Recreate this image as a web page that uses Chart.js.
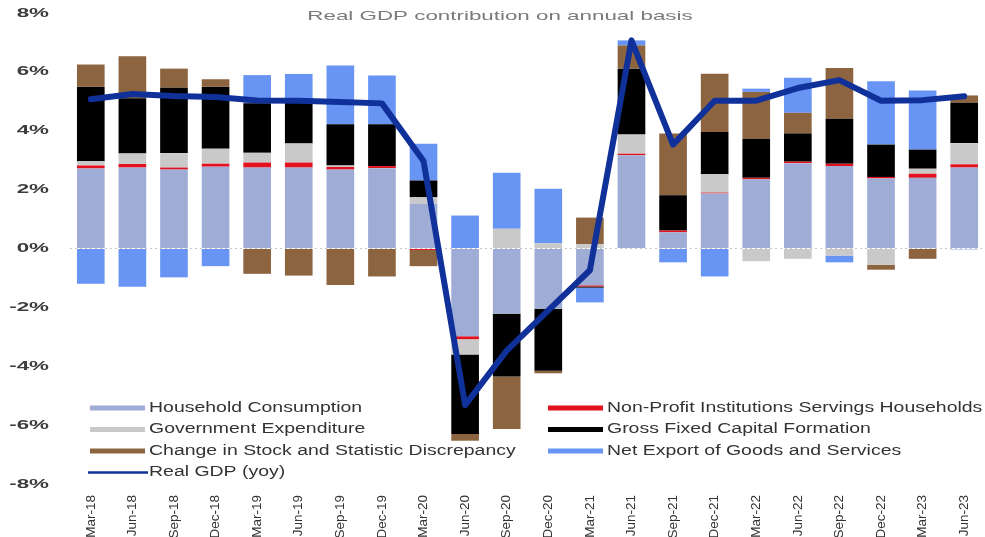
<!DOCTYPE html>
<html>
<head>
<meta charset="utf-8">
<title>Real GDP contribution on annual basis</title>
<script src="https://cdn.jsdelivr.net/npm/chart.js@4.4.1/dist/chart.umd.min.js"></script>
<style>
  html, body { margin: 0; padding: 0; background: #ffffff; }
  #wrap { position: relative; width: 985px; height: 537px; }
</style>
</head>
<body>
<div id="wrap"><canvas id="gdp"></canvas></div>
<script>
// Quarterly contributions to real GDP growth, percentage points (yoy)
const categories = ['Mar-18','Jun-18','Sep-18','Dec-18','Mar-19','Jun-19','Sep-19','Dec-19',
  'Mar-20','Jun-20','Sep-20','Dec-20','Mar-21','Jun-21','Sep-21','Dec-21',
  'Mar-22','Jun-22','Sep-22','Dec-22','Mar-23','Jun-23'];

const household   = [2.72, 2.75, 2.68, 2.78, 2.75, 2.75, 2.68, 2.73, 1.52, -2.98, -2.22, -2.05, -1.25, 3.17, 0.55, 1.87, 2.35, 2.90, 2.80, 2.38, 2.40, 2.75];
const nonProfit   = [0.10, 0.12, 0.07, 0.10, 0.17, 0.17, 0.09, 0.07, -0.05, -0.10, 0.00, 0.00, -0.04, 0.05, 0.06, 0.03, 0.05, 0.05, 0.08, 0.05, 0.14, 0.11];
const government  = [0.14, 0.36, 0.49, 0.51, 0.33, 0.65, 0.05, 0.00, 0.22, -0.52, 0.67, 0.18, 0.15, 0.65, 0.00, 0.62, -0.43, -0.35, -0.24, -0.55, 0.17, 0.72];
const fixedCapital= [2.53, 1.87, 2.22, 2.10, 1.68, 1.45, 1.40, 1.42, 0.57, -2.70, -2.13, -2.10, -0.04, 2.24, 1.20, 1.44, 1.33, 0.96, 1.53, 1.10, 0.65, 1.37];
const stockChange = [0.76, 1.43, 0.65, 0.26, -0.86, -0.92, -1.24, -0.95, -0.55, -0.23, -1.78, -0.09, 0.90, 0.79, 2.10, 1.98, 1.59, 0.70, 1.72, -0.17, -0.35, 0.25];
const netExport   = [-1.20, -1.30, -0.98, -0.60, 0.96, 0.91, 2.00, 1.66, 1.25, 1.12, 1.90, 1.85, -0.50, 0.17, -0.47, -0.95, 0.11, 1.19, -0.23, 2.15, 2.01, -0.03];
const realGdp     = [5.07, 5.25, 5.18, 5.15, 5.03, 5.02, 4.98, 4.93, 2.97, -5.32, -3.47, -2.10, -0.74, 7.07, 3.53, 5.02, 5.02, 5.45, 5.72, 5.02, 5.04, 5.17];

const seriesLabels = ['Household Consumption', 'Non-Profit Institutions Servings Households',
  'Government Expenditure', 'Gross Fixed Capital Formation',
  'Change in Stock and Statistic Discrepancy', 'Net Export of Goods and Services', 'Real GDP (yoy)'];
const chartTitle = 'Real GDP contribution on annual basis';
const yMin = -8, yMax = 8, yStep = 2;

const colors = ['#9eacd6', '#e3101e', '#c9c9c9', '#000000', '#8c6540', '#6894f4', '#10309a'];
const barSeries = [household, nonProfit, government, fixedCapital, stockChange, netExport];

const FONT = "'Liberation Sans', Arial, sans-serif";

// Draw text with a horizontal stretch factor (wide lettering)
function wideText(ctx, text, x, y, sx, align) {
  ctx.save();
  ctx.translate(x, y);
  ctx.scale(sx, 1);
  ctx.textAlign = align;
  ctx.textBaseline = 'middle';
  ctx.fillText(text, 0, 0);
  ctx.restore();
}

// Title, y tick labels and a two-column legend inside the plot
const decorations = {
  id: 'decorations',
  afterDraw(chart) {
    const ctx = chart.ctx;
    const area = chart.chartArea;
    const yScale = chart.scales.y;

    ctx.save();
    ctx.fillStyle = '#7a7a7a';
    ctx.font = '13px ' + FONT;
    wideText(ctx, chartTitle, 500, 16.5, 1.72, 'center');

    ctx.fillStyle = '#3c3c3c';
    ctx.font = 'bold 13px ' + FONT;
    yScale.ticks.forEach(t => {
      const y = yScale.getPixelForValue(t.value);
      wideText(ctx, t.value + '%', area.left - 21, y, 1.72, 'right');
    });

    const colX = [area.left + 20, area.left + 478];
    const rowY0 = 408, rowH = 21.5;
    ctx.font = '14px ' + FONT;
    chart.data.datasets.forEach((ds, i) => {
      const col = i % 2, row = Math.floor(i / 2);
      const x = colX[col], y = rowY0 + row * rowH;
      if (ds.type === 'line') {
        ctx.strokeStyle = ds.borderColor;
        ctx.lineWidth = 2.5;
        ctx.beginPath();
        ctx.moveTo(x - 2, y);
        ctx.lineTo(x + 58, y);
        ctx.stroke();
      } else {
        ctx.fillStyle = ds.backgroundColor;
        ctx.fillRect(x, y - 2.5, 55, 5);
      }
      ctx.fillStyle = '#333333';
      wideText(ctx, ds.label, x + 59, y, 1.39, 'left');
    });
    ctx.restore();
  }
};

const datasets = barSeries.map((data, i) => ({
  type: 'bar',
  label: seriesLabels[i],
  data: data,
  backgroundColor: colors[i],
  borderWidth: 0,
  stack: 'contrib',
  order: 1,
  barPercentage: 0.665,
  categoryPercentage: 1.0
}));
datasets.push({
  type: 'line',
  label: seriesLabels[6],
  data: realGdp,
  borderColor: colors[6],
  backgroundColor: colors[6],
  borderWidth: 6,
  pointRadius: 0,
  tension: 0,
  borderJoinStyle: 'round',
  borderCapStyle: 'round',
  stack: 'gdp',
  order: 0
});

new Chart(document.getElementById('gdp'), {
  data: { labels: categories, datasets: datasets },
  options: {
    responsive: true,
    maintainAspectRatio: false,
    animation: false,
    layout: { padding: { top: 13, right: 0, bottom: 0, left: 0 } },
    plugins: {
      legend: { display: false },
      title: { display: false },
      tooltip: { enabled: false }
    },
    scales: {
      x: {
        stacked: true,
        offset: true,
        grid: { display: false },
        border: { display: false },
        ticks: {
          autoSkip: false,
          minRotation: 90,
          maxRotation: 90,
          padding: 3,
          color: '#333333',
          font: { family: FONT, size: 13.5 }
        },
        afterFit(scale) { scale.height = 53; }
      },
      y: {
        stacked: true,
        min: yMin,
        max: yMax,
        border: { display: false, dash: [2, 3] },
        grid: {
          drawTicks: false,
          color: c => (c.tick && c.tick.value === 0) ? 'rgba(185,185,185,0.8)' : 'rgba(0,0,0,0)',
          lineWidth: 1
        },
        ticks: { stepSize: yStep, display: false },
        afterFit(scale) { scale.width = 70; }
      }
    }
  },
  plugins: [decorations]
});
</script>
</body>
</html>
